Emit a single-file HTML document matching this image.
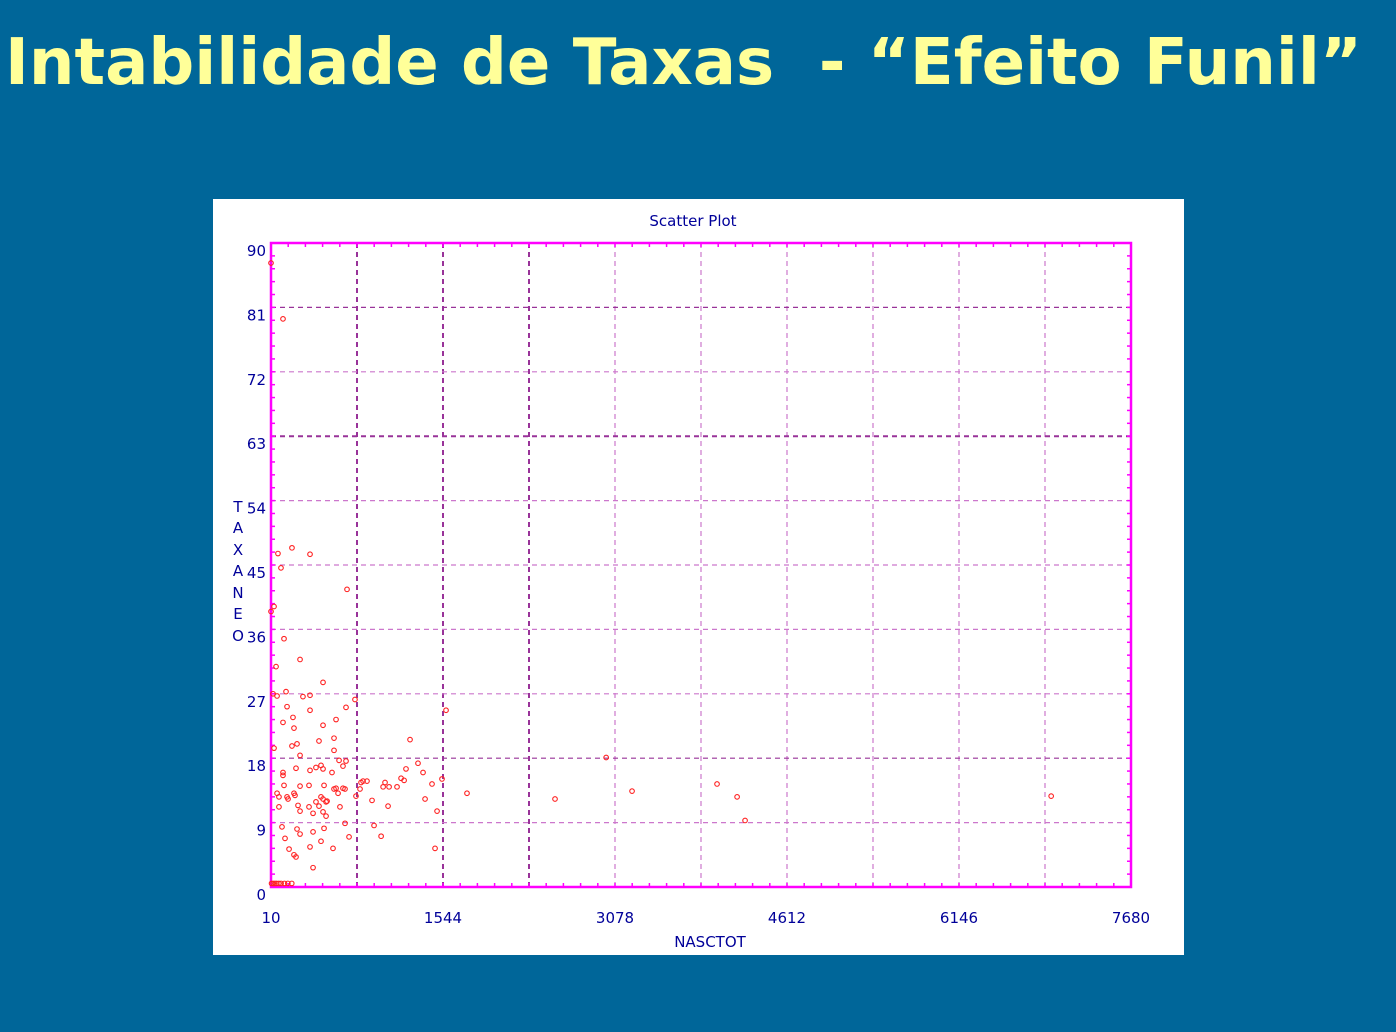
<!DOCTYPE html>
<html><head><meta charset="utf-8"><style>
html,body{margin:0;padding:0;background:#006699;}
svg{display:block;}
</style></head><body>
<svg width="1396" height="1032" xmlns="http://www.w3.org/2000/svg">
<rect x="0" y="0" width="1396" height="1032" fill="#006699"/>
<text x="5" y="84" fill="#ffff99" font-family="DejaVu Sans, Liberation Sans, sans-serif" font-weight="bold" font-size="64" textLength="1357" lengthAdjust="spacingAndGlyphs">Intabilidade de Taxas&#160; - “Efeito Funil”</text>
<rect x="213" y="199" width="971" height="756" fill="#ffffff"/>
<text x="693" y="226" text-anchor="middle" fill="#000099" font-family="DejaVu Sans, Liberation Sans, sans-serif" font-size="15">Scatter Plot</text>
<g id="grid"></g>
<g id="axes"></g>
<g id="points"></g>
<text x="710" y="947" text-anchor="middle" fill="#000099" font-family="DejaVu Sans, Liberation Sans, sans-serif" font-size="15">NASCTOT</text>
<g fill="#000099" font-family="DejaVu Sans, Liberation Sans, sans-serif" font-size="15" text-anchor="middle">
<text x="238" y="512">T</text><text x="238" y="533">A</text><text x="238" y="555">X</text><text x="238" y="576">A</text><text x="238" y="598">N</text><text x="238" y="619">E</text><text x="238" y="641">O</text>
</g>
</svg>
<script>
const xTicks=[10,1544,3078,4612,6146,7680];
const yTicks=[0,9,18,27,36,45,54,63,72,81,90];
const xVals=[72,197,358,99,688,37,10,126,269,55,474,144,28,64,295,358,759,153,358,679,117,206,590,215,474,572,438,242,197,37,572,269,617,679,1250,1321,1214,1366,1571,117,117,233,358,411,456,474,554,652,1170,1197,831,866,813,1027,1010,1063,1134,1446,1535,1758,126,269,349,483,572,590,652,670,64,81,162,153,215,224,608,768,804,456,474,501,510,411,1384,911,251,81,349,438,625,1054,269,385,474,501,1491,670,108,242,269,483,929,992,706,135,385,456,171,215,233,358,563,1473,385,15,30,45,60,80,100,130,160,195,10,117,2543,2999,3230,3988,4167,4238,6968];
const yVals=[46.6,47.4,46.5,44.6,41.6,39.2,38.5,34.7,31.8,30.8,28.6,27.3,27,26.7,26.6,26.8,26.2,25.2,24.7,25.1,23,23.7,23.4,22.2,22.6,20.8,20.4,20,19.7,19.4,19.1,18.4,17.7,17.6,20.6,17.3,16.5,16,24.7,16,15.6,16.6,16.3,16.7,17,16.5,16,16.9,15.2,14.9,14.8,14.8,14.6,14.6,14,14,14,14.4,15.1,13.1,14.2,14.1,14.2,14.2,13.7,13.8,13.8,13.7,13.1,12.6,12.3,12.6,13.1,12.8,13.1,12.7,13.7,12.6,12.3,11.9,12,11.9,12.3,12.1,11.4,11.2,11.2,11.3,11.2,11.3,10.6,10.3,10.5,9.9,10.6,8.9,8.4,8.1,7.4,8.2,8.6,7.1,7,6.8,7.7,6.4,5.3,4.5,4.2,5.6,5.4,5.4,2.7,0.5,0.5,0.5,0.5,0.5,0.5,0.5,0.5,0.5,87.2,79.4,12.3,18.1,13.4,14.4,12.6,9.3,12.7];
const NS='http://www.w3.org/2000/svg';
const L=271,R=1131,T=243,B=887;
function sx(v){return L+(v-10)/(7680-10)*(R-L);}
function sy(v){return B-v/90*(B-T);}
function mk(tag,attrs,parent){const e=document.createElementNS(NS,tag);for(const k in attrs)e.setAttribute(k,attrs[k]);parent.appendChild(e);return e;}
const grid=document.getElementById('grid'),axes=document.getElementById('axes'),pts=document.getElementById('points');
for(let i=1;i<10;i++){const x=L+i*(R-L)/10;
 const g=mk('line',{x1:x,x2:x,y1:T,y2:B,stroke:i<4?'#993399':'#cc77cc','stroke-width':i<4?2:1.2,'stroke-dasharray':'5,4'},grid);
 
 }
yTicks.forEach((v,i)=>{ if(v>0&&v<90){const y=sy(v);
 const g=mk('line',{x1:L,x2:R,y1:y,y2:y,stroke:(v==63||v==81||v==18)?'#993399':'#cc77cc','stroke-width':(v==63)?2:1.2,'stroke-dasharray':'5,4'},grid);
 
 }
 const t=mk('text',{x:266,y:sy(v)+13,'text-anchor':'end',fill:'#000099','font-family':'DejaVu Sans, Liberation Sans, sans-serif','font-size':15},axes);
 t.textContent=v;
 
 });
xTicks.forEach(v=>{const t=mk('text',{x:sx(v),y:923,'text-anchor':'middle',fill:'#000099','font-family':'DejaVu Sans, Liberation Sans, sans-serif','font-size':15},axes);
 t.textContent=v;
 
 });
for(let i=0;i<=50;i++){const x=L+i*(R-L)/50;
 const a=mk('line',{x1:x,x2:x,y1:B,y2:B-4,stroke:'#ff00ff','stroke-width':1.5},axes);
 
 
 const b=mk('line',{x1:x,x2:x,y1:T,y2:T+4,stroke:'#ff00ff','stroke-width':1.5},axes);
 
 }
for(let i=0;i<=50;i++){const y=T+i*(B-T)/50;
 const a=mk('line',{x1:L,x2:L+4,y1:y,y2:y,stroke:'#ff00ff','stroke-width':1.5},axes);
 
 
 const b=mk('line',{x1:R,x2:R-4,y1:y,y2:y,stroke:'#ff00ff','stroke-width':1.5},axes);
 
 }
const fr=mk('rect',{x:L,y:T,width:R-L,height:B-T,fill:'none',stroke:'#ff00ff','stroke-width':2.5},axes);


xVals.forEach((v,i)=>{const c=mk('circle',{cx:sx(v),cy:sy(yVals[i]),r:2.3,fill:'none',stroke:'#ff2020','stroke-width':1.1},pts);
 
 });
</script>
</body></html>
